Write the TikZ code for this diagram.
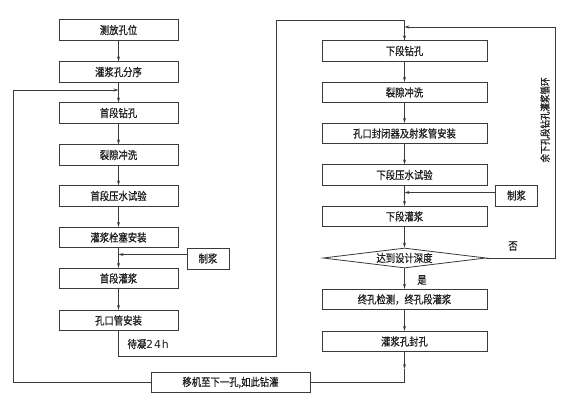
\documentclass[tikz,border=0pt]{standalone}
\usepackage{fontspec}
\newfontfamily\cjk[FakeStretch=0.85, FakeBold=0.6]{Noto Sans CJK SC}
\usetikzlibrary{arrows.meta, positioning, calc, shapes.geometric}
\definecolor{lnclr}{HTML}{3A3A3A}
\definecolor{txclr}{HTML}{1E1E1E}

\begin{document}
\begin{tikzpicture}[
  x=1pt, y=-1pt,
  >={Stealth[length=5pt, width=3pt]},
  stepbox/.style={
    draw=lnclr, line width=0.8pt, minimum width=#1, minimum height=20.5pt,
    font=\cjk\fontsize{11}{12}\selectfont, text=txclr, inner sep=0pt
  },
  stepbox/.default=119pt,
  slurbox/.style={
    draw=lnclr, line width=0.8pt, minimum width=42pt, minimum height=21pt,
    font=\cjk\fontsize{11}{12}\selectfont, text=txclr, inner sep=0pt
  },
  chkbox/.style={
    draw=lnclr, line width=0.8pt, diamond, aspect=8, inner sep=0pt,
    minimum width=163pt, minimum height=20pt,
    font=\cjk\fontsize{11}{12}\selectfont, text=txclr
  },
  arr/.style={->, line width=0.8pt, lnclr},
  ln/.style={line width=0.8pt, lnclr},
  lbl/.style={font=\cjk\fontsize{11}{12}\selectfont, text=txclr},
]

% Background
\useasboundingbox (0,0) rectangle (567,415);
\fill[white] (0,0) rectangle (567,415);

% =============================================
% Left column: first stage
% =============================================
\node[stepbox] (cf) at (118.5,30) {测放孔位};
\node[stepbox] (fx) at (118.5,72) {灌浆孔分序};
\node[stepbox] (sz) at (118.5,113) {首段钻孔};
\node[stepbox] (lc) at (118.5,155) {裂隙冲洗};
\node[stepbox] (sy) at (118.5,196) {首段压水试验};
\node[stepbox] (sb) at (118.5,237.5) {灌浆栓塞安装};
\node[stepbox] (sg) at (118.5,278.5) {首段灌浆};
\node[stepbox] (kg) at (118.5,320.5) {孔口管安装};
\node[slurbox] (zj1) at (208,258.5) {制浆};

\draw[arr] (cf) -- (fx);
\draw[arr] (fx) -- (sz);
\draw[arr] (sz) -- (lc);
\draw[arr] (lc) -- (sy);
\draw[arr] (sy) -- (sb);
\draw[arr] (sb) -- (sg);
\draw[arr] (sg) -- (kg);
\draw[arr] ([yshift=4pt]zj1.west) -- ([yshift=4pt]zj1.west -| sb.south);

% Waiting 24h, over to the right column
\coordinate (wt1) at (276,356);
\coordinate (wt2) at (276,20);
\node[lbl, anchor=west] (wt) at (124,344)
  {待凝{\fontspec{DejaVu Sans}\fontsize{11}{12}\selectfont\addfontfeatures{LetterSpace=8} 24h}};

% =============================================
% Right column: lower stages
% =============================================
\node[stepbox=165pt] (xz) at (404.5,51) {下段钻孔};
\node[stepbox=165pt] (lc2) at (404.5,92.5) {裂隙冲洗};
\node[stepbox=165pt] (fb) at (404.5,133.5) {孔口封闭器及射浆管安装};
\node[stepbox=165pt] (xy) at (404.5,175) {下段压水试验};
\node[stepbox=165pt] (xg) at (404.5,216.5) {下段灌浆};
\node[chkbox] (sd) at (404.5,258) {达到设计深度};
\node[stepbox=165pt] (zk) at (404.5,299.5) {终孔检测，终孔段灌浆};
\node[stepbox=165pt] (fk) at (404.5,341.5) {灌浆孔封孔};
\node[slurbox] (zj2) at (516.5,195.5) {制浆};

\draw[ln] (kg.south) |- (wt1) -- (wt2) -| (xz.north);
\draw[arr] (wt2 -| xz.north) -- (xz.north);
\draw[arr] (xz) -- (lc2);
\draw[arr] (lc2) -- (fb);
\draw[arr] (fb) -- (xy);
\draw[arr] (xy) -- (xg);
\draw[arr] (xg) -- (sd);
\draw[arr] (sd) -- (zk);
\draw[arr] (zk) -- (fk);
\draw[arr] ([yshift=3pt]zj2.west) -- ([yshift=3pt]zj2.west -| xy.south);

% Loop for the remaining stages
\coordinate (lp) at (555,27);
\draw[arr] (sd.east) -| (lp) -- (lp -| xz.north);
\node[lbl] (no) at (513,246) {否};
\node[lbl] (yes) at (422,280) {是};
\node[lbl, rotate=90, font=\cjk\fontsize{10}{11}\selectfont] (lpt) at (545,120)
  {余下孔段钻孔灌浆循环};

% =============================================
% Bottom: next hole
% =============================================
\node[stepbox=159pt] (yj) at (230.5,382.5) {移机至下一孔,如此钻灌};
\coordinate (fk1) at (404.5,369);
\coordinate (bk1) at (13,382.5);
\coordinate (bk2) at (13,90);
\draw[arr] (fk.south) -- (fk1);
\draw[ln] (fk1) |- (yj.east);
\draw[arr] (yj.west) -- (bk1) -- (bk2) -- (bk2 -| sz.north);

\end{tikzpicture}
\end{document}
